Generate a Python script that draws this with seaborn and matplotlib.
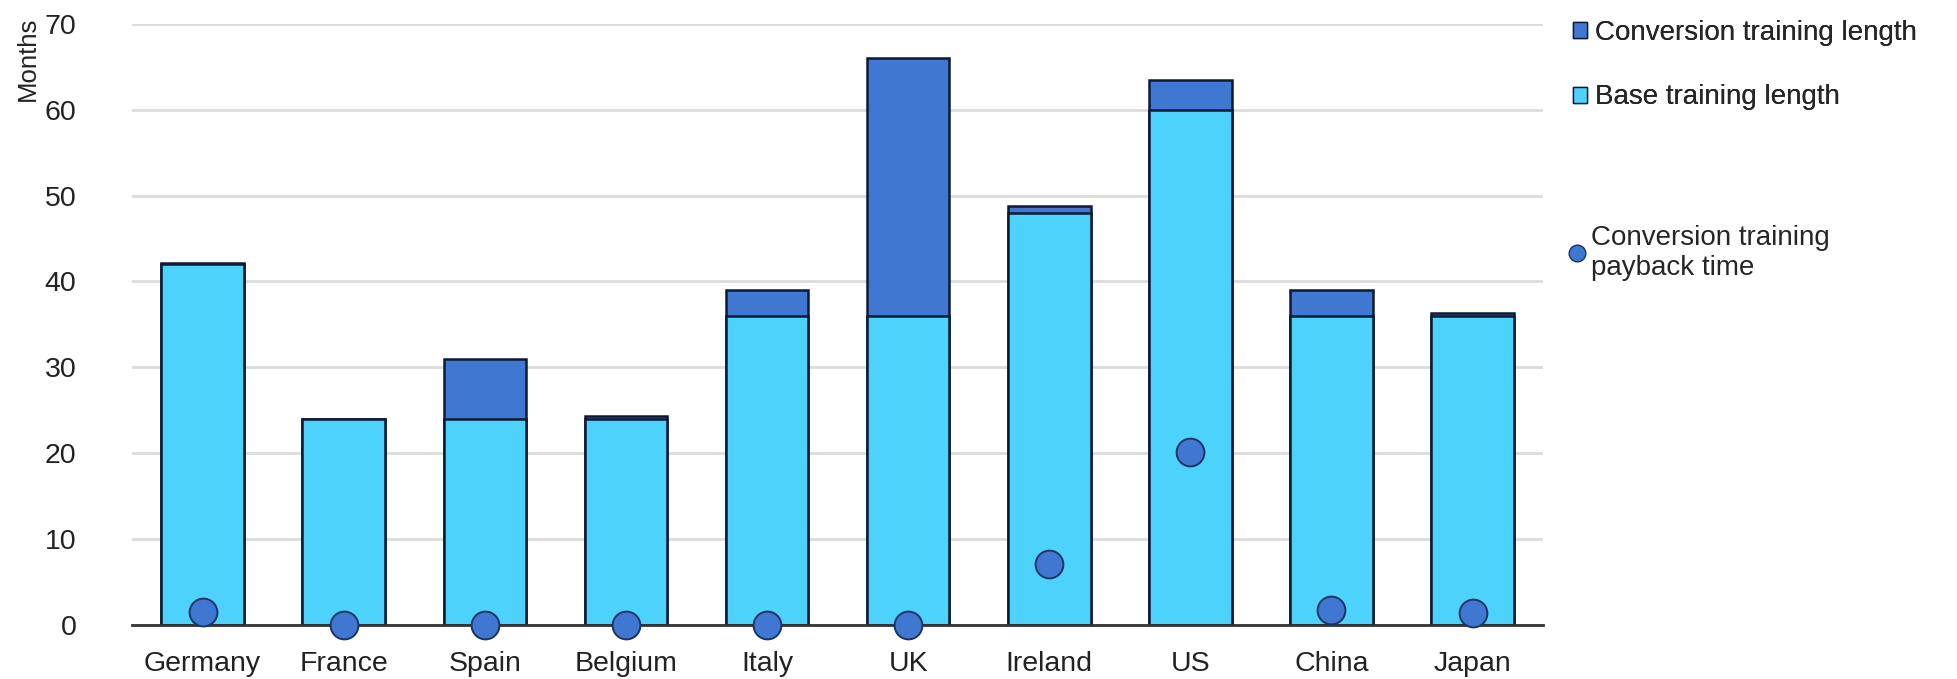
import matplotlib
matplotlib.use("Agg")
import matplotlib.pyplot as plt
from matplotlib.lines import Line2D
from matplotlib.patches import Patch
import pandas as pd
import seaborn as sns

countries = ['Germany', 'France', 'Spain', 'Belgium', 'Italy', 'UK', 'Ireland', 'US', 'China', 'Japan']
base_length = [42, 24, 24, 24, 36, 36, 48, 60, 36, 36]
conversion_length = [0.2, 0, 7, 0.3, 3, 30, 0.8, 3.5, 3, 0.3]
payback_time = [1.5, 0, 0, 0, 0, 0, 7.1, 20.1, 1.7, 1.4]
y_ticks = [0, 10, 20, 30, 40, 50, 60, 70]

dark_blue = '#3f77d1'
light_blue = '#4dd2fc'
edge = '#0d1a33'

df = pd.DataFrame({'country': countries, 'base': base_length,
                   'conv': conversion_length, 'payback': payback_time})
df['total'] = df.base + df.conv

sns.set_style('white')
plt.rcParams['font.family'] = ['Liberation Sans', 'DejaVu Sans']

fig = plt.figure(figsize=(19.57, 6.79), dpi=100)
ax = fig.add_axes([0.0675, 0.0795, 0.721, 0.8855])

# total first (dark), base stacked on top of it
sns.barplot(data=df, x='country', y='total', color=dark_blue, width=0.585,
            edgecolor=edge, linewidth=1.8, saturation=1, ax=ax)
sns.barplot(data=df, x='country', y='base', color=light_blue, width=0.585,
            edgecolor=edge, linewidth=1.8, saturation=1, ax=ax)
sns.stripplot(data=df, x='country', y='payback', jitter=False, size=20,
              color=dark_blue, edgecolor='#1a3466', linewidth=1.4, ax=ax, zorder=5)
for c in ax.collections:
    c.set_clip_on(False)

ax.set_ylim(0, 70)
ax.set_xlim(-0.5, 9.5)
ax.set_yticks(y_ticks)
ax.yaxis.grid(True, color='#dcdcdc', linewidth=2)
ax.set_axisbelow(True)
sns.despine(ax=ax, left=True, top=True, right=True)
ax.spines['bottom'].set_color('#333333')
ax.spines['bottom'].set_linewidth(2)
ax.spines['bottom'].set_zorder(4)
ax.tick_params(axis='both', length=0, labelsize=20.5, colors='#222222')
ax.tick_params(axis='y', pad=40)
ax.tick_params(axis='x', pad=19)
ax.set_xlabel('')
ax.set_ylabel('')
fig.text(0.008, 0.975, 'Months', rotation=90, ha='left', va='top', fontsize=18.5, color='#222222')

h1 = [Patch(facecolor=dark_blue, edgecolor=edge, label='Conversion training length'),
      Patch(facecolor=light_blue, edgecolor=edge, label='Base training length')]
leg1 = fig.legend(handles=h1, loc='upper left', bbox_to_anchor=(0.791, 1.008), frameon=False,
                  fontsize=20, handlelength=0.5, handleheight=0.5, handletextpad=0.3,
                  labelspacing=1.4)
h2 = [Line2D([], [], marker='o', linestyle='', markersize=12, markerfacecolor=dark_blue,
             markeredgecolor='#1a3466', label='Conversion training\npayback time')]
fig.legend(handles=h2, loc='upper left', bbox_to_anchor=(0.789, 0.706), frameon=False,
           fontsize=20, handlelength=0.6, handletextpad=0.2, labelspacing=0.1)
fig.add_artist(leg1)

fig.savefig('out.png', dpi=100)
